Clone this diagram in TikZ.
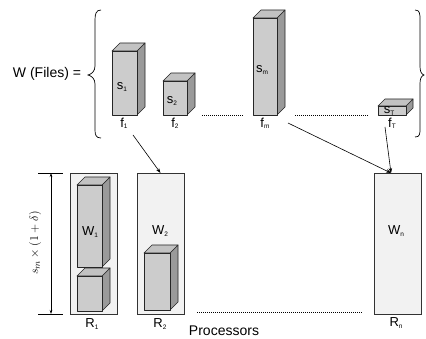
\documentclass[tikz,border=0pt]{standalone}
\usepackage{fontspec}
\setmainfont{Liberation Sans}
\usetikzlibrary{arrows.meta}
\definecolor{frontc}{HTML}{CCCCCC}
\definecolor{sidec}{HTML}{9A9A9A}
\definecolor{topc}{HTML}{C2C2C2}
\definecolor{procc}{HTML}{F2F2F2}
\newcommand\cuboid[5]{%
  \filldraw[cubside] (#3,#2) -- ++(#5,-#5) -- (#3+#5,#4-#5) -- (#3,#4) -- cycle;
  \filldraw[cubtop] (#1,#2) -- ++(#5,-#5) -- (#3+#5,#2-#5) -- (#3,#2) -- cycle;
  \filldraw[cubfront] (#1,#2) rectangle (#3,#4);
}
\newcommand\lsub[2]{#1\raisebox{-0.2ex}{\fontsize{6.5}{6.5}\selectfont #2}}
\begin{document}
\begin{tikzpicture}[x=1pt,y=-1pt,
  cubfront/.style={fill=frontc,draw=black!85,line width=0.7pt,line join=round},
  cubside/.style={fill=sidec,draw=black!85,line width=0.7pt,line join=round},
  cubtop/.style={fill=topc,draw=black!85,line width=0.7pt,line join=round},
  proc/.style={draw=black!80,fill=procc,line width=0.7pt,inner sep=0pt,outer sep=0pt},
  lbl/.style={font=\fontsize{13}{13}\selectfont,inner sep=0pt},
  big/.style={font=\fontsize{14}{14}\selectfont,inner sep=0pt},
  dotline/.style={line width=0.5pt,dash pattern=on 1pt off 1pt},
  conn/.style={line width=0.6pt,-{Stealth[length=5pt,width=3.5pt]}},
  bracestyle/.style={line width=0.7pt}]
\useasboundingbox (0,0) rectangle (426,339);

% braces
\draw[bracestyle] (101,10) .. controls (96,10) and (95,14) .. (95,20) -- (95,66)
  .. controls (95,71) and (92,74) .. (88,75) .. controls (92,76) and (95,79) .. (95,84)
  -- (95,130) .. controls (95,135) and (96,138) .. (101,138);
\draw[bracestyle] (415,10) .. controls (420,10) and (420,14) .. (420,20) -- (420,66)
  .. controls (420,71) and (421,74) .. (424,75) .. controls (421,76) and (420,79) .. (420,84)
  -- (420,128) .. controls (420,134) and (420,137) .. (415,137);

\node[big] (wf) at (47,74) {W (Files) =};

% files
\cuboid{112}{51}{137}{115}{8}
\cuboid{163}{81}{187}{115}{8}
\cuboid{253}{18}{277}{115}{8}
\cuboid{378}{106}{406}{115}{7}
\node[lbl] (s1) at (122,87) {\lsub{s}{1}};
\node[lbl] (s2) at (172,101) {\lsub{s}{2}};
\node[lbl] (sm) at (262,70) {\lsub{s}{m}};
\node[lbl] (sT) at (389,111) {\lsub{s}{T}};
\node[lbl] (f1) at (124,123) {\lsub{f}{1}};
\node[lbl] (f2) at (175,123) {\lsub{f}{2}};
\node[lbl] (fm) at (265,123) {\lsub{f}{m}};
\node[lbl] (fT) at (392,123) {\lsub{f}{T}};
\draw[dotline] (202,115) -- (243,115);
\draw[dotline] (295,115) -- (368,115);

% processors
\node[proc,minimum width=47pt,minimum height=141pt] (R1) at (93.5,243.5) {};
\node[proc,minimum width=47pt,minimum height=141pt] (R2) at (160.5,243.5) {};
\node[proc,minimum width=47pt,minimum height=141pt] (Rn) at (397.5,243.5) {};
\cuboid{77}{276}{102}{311}{8}
\cuboid{77}{185}{102}{267}{8}
\cuboid{144}{253}{170}{310}{8}
\node[lbl] (W1) at (90,232) {\lsub{W}{1}};
\node[lbl] (W2) at (160,231) {\lsub{W}{2}};
\node[lbl] (Wn) at (396,231) {\lsub{W}{n}};
\node[lbl] (R1l) at (92,324) {\lsub{R}{1}};
\node[lbl] (R2l) at (160,324) {\lsub{R}{2}};
\node[lbl] (Rnl) at (396,323) {\lsub{R}{n}};
\node[big] (proclbl) at (224,331) {Processors};
\draw[dotline] (197,312) -- (363,312);

% dimension
\draw[line width=0.6pt] (38,173) -- (63,173);
\draw[line width=0.6pt] (38,314) -- (63,314);
\draw[line width=0.5pt,{Stealth[length=4pt,width=2.5pt]}-{Stealth[length=4pt,width=2.5pt]}] (51,173) -- (51,314);
\node[rotate=90,inner sep=0pt,font=\fontsize{12.5}{15}\selectfont] (dim) at (35,243) {$s_m\times(1+\delta)$};

% connectors
\coordinate (a1) at (133,135);
\coordinate (am) at (288,123);
\coordinate (aT) at (385,127);
\coordinate (tn) at (391,173);
\draw[conn] (a1) -- (R2.north);
\draw[conn] (am) -- (tn);
\draw[conn] (aT) -- (tn);
\end{tikzpicture}
\end{document}
